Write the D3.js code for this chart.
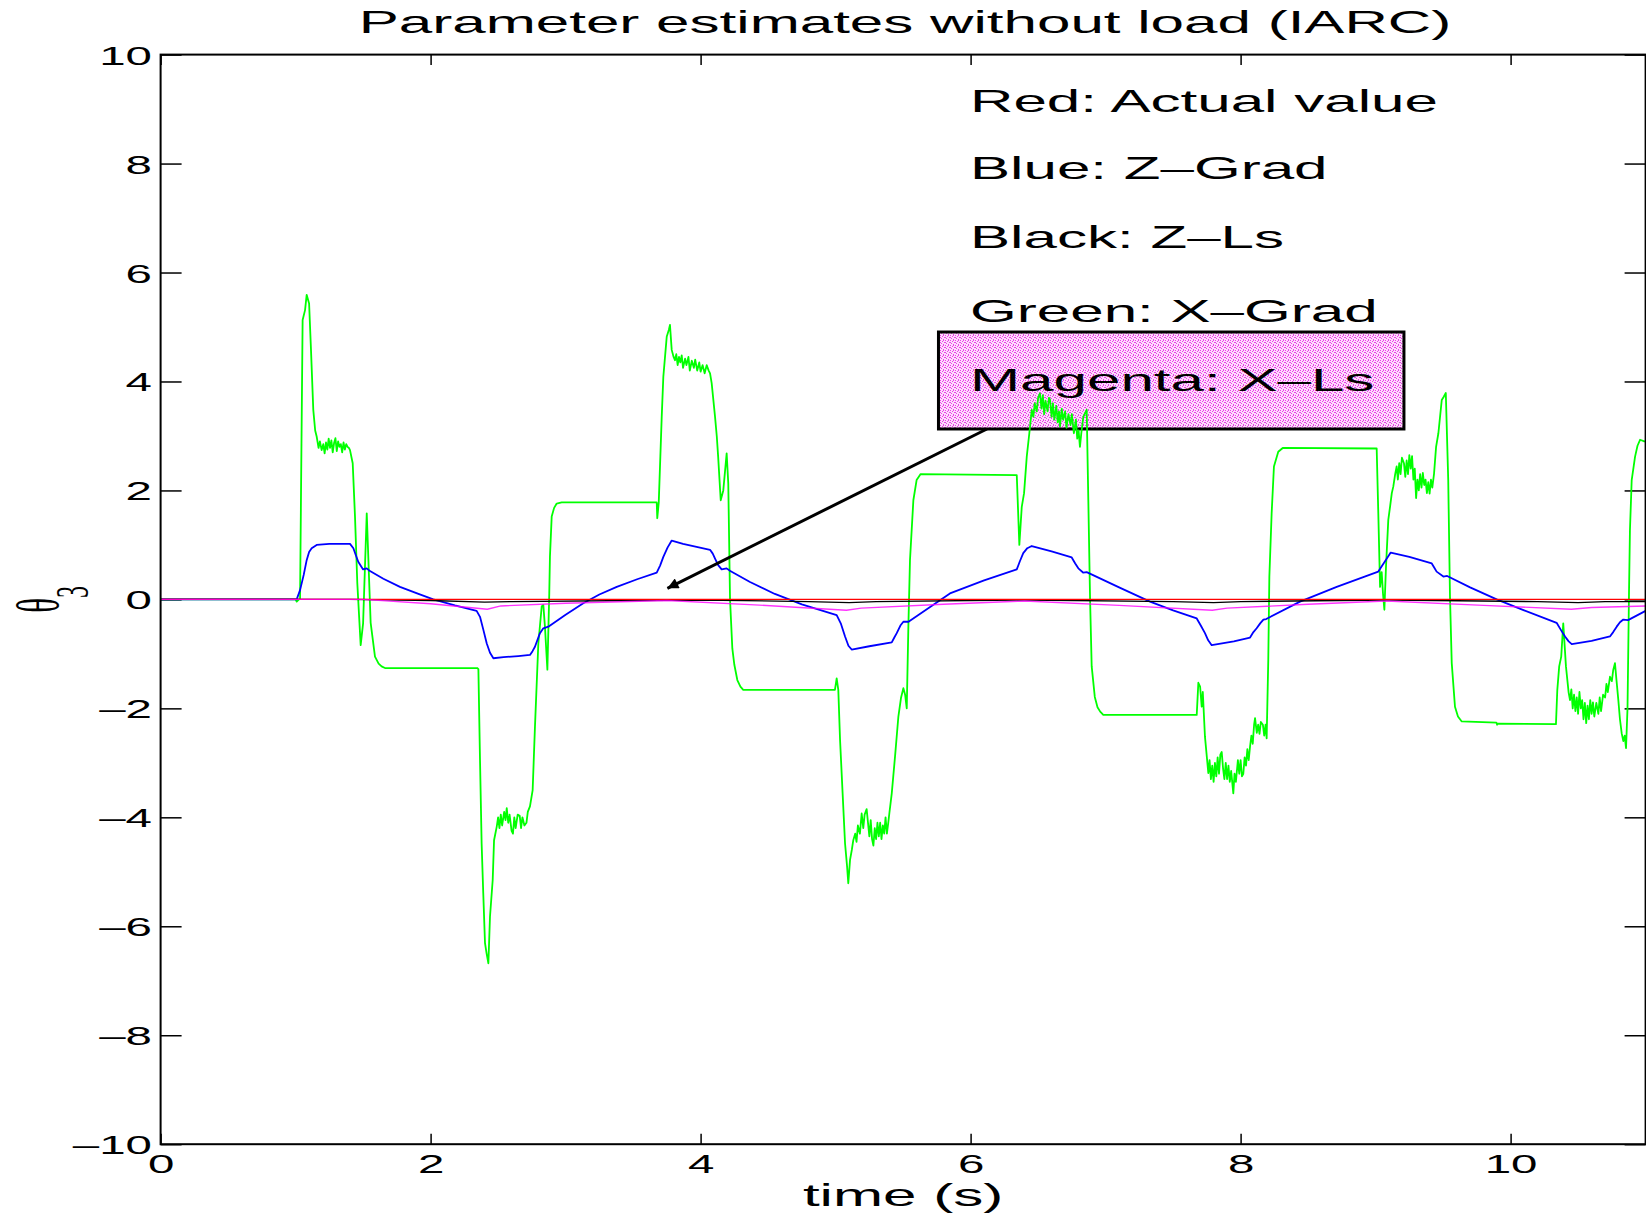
<!DOCTYPE html>
<html>
<head>
<meta charset="utf-8">
<script src="https://cdn.jsdelivr.net/npm/d3@7"></script>
<style>
  body { margin: 0; background: #fff; }
  svg { display: block; background: #fff; }
</style>
</head>
<body>
<div id="chart"></div>
<script>
// ---- data (time in s, theta_3 estimate) ----
const actual = [[0, 0], [11, 0]]; // red

const zGrad = [ // blue
  [0,0],[1.0,0],[1.008,0],[1.033,0.17],[1.06,0.45],[1.082,0.72],[1.10,0.87],[1.119,0.94],[1.156,1.0],[1.25,1.02],
  [1.403,1.02],[1.428,0.94],[1.445,0.82],[1.464,0.69],[1.50,0.55],[1.527,0.57],[1.551,0.52],[1.65,0.38],[1.773,0.23],
  [1.9,0.11],[2.02,0.0],[2.18,-0.11],[2.341,-0.21],[2.366,-0.32],[2.39,-0.55],[2.416,-0.81],[2.44,-0.98],[2.465,-1.08],
  [2.54,-1.06],[2.65,-1.04],[2.736,-1.02],[2.755,-0.95],[2.773,-0.87],[2.81,-0.62],[2.835,-0.53],[2.872,-0.5],[3.0,-0.28],
  [3.131,-0.07],[3.25,0.09],[3.379,0.23],[3.53,0.37],[3.675,0.49],[3.7,0.62],[3.724,0.78],[3.755,0.95],[3.786,1.08],
  [3.87,1.02],[4.07,0.91],[4.09,0.84],[4.107,0.75],[4.13,0.63],[4.156,0.55],[4.193,0.57],[4.22,0.52],[4.366,0.32],
  [4.55,0.1],[4.75,-0.09],[5.008,-0.29],[5.04,-0.45],[5.07,-0.68],[5.095,-0.85],[5.119,-0.92],[5.25,-0.86],[5.416,-0.79],
  [5.435,-0.7],[5.453,-0.62],[5.48,-0.48],[5.502,-0.41],[5.54,-0.41],[5.7,-0.14],[5.847,0.11],[6.1,0.35],[6.342,0.55],
  [6.365,0.7],[6.39,0.85],[6.42,0.94],[6.453,0.98],[6.6,0.88],[6.749,0.77],[6.775,0.66],[6.798,0.57],[6.835,0.49],
  [6.86,0.5],[7.1,0.22],[7.329,-0.04],[7.5,-0.2],[7.675,-0.35],[7.705,-0.48],[7.736,-0.62],[7.76,-0.75],[7.786,-0.84],
  [7.95,-0.77],[8.07,-0.7],[8.095,-0.6],[8.119,-0.53],[8.145,-0.44],[8.169,-0.37],[8.19,-0.36],[8.44,-0.04],[8.712,0.23],
  [9.02,0.51],[9.065,0.68],[9.112,0.86],[9.25,0.78],[9.416,0.66],[9.435,0.58],[9.452,0.51],[9.502,0.42],[9.53,0.43],
  [9.7,0.22],[9.897,0.0],[10.1,-0.2],[10.341,-0.43],[10.37,-0.55],[10.403,-0.68],[10.43,-0.77],[10.453,-0.82],
  [10.6,-0.76],[10.736,-0.68],[10.76,-0.6],[10.786,-0.5],[10.81,-0.42],[10.835,-0.37],[10.87,-0.38],[11.0,-0.21]
];

const zLs = [ // black
  [0,0],[1.4,0],[2.0,-0.02],[2.4,-0.05],[2.6,-0.04],[3.5,-0.02],[4.0,-0.01],[4.8,-0.04],[5.1,-0.06],[5.3,-0.04],
  [6.4,-0.01],[7.5,-0.04],[7.8,-0.06],[8.0,-0.04],[9.1,-0.01],[10.2,-0.04],[10.5,-0.06],[10.7,-0.04],[11,-0.04]
];

const xGrad = [ // green
  [0,0],[1.0,0],[1.008,-0.04],[1.033,0.02],[1.052,5.13],[1.07,5.31],[1.082,5.59],[1.10,5.43],[1.114,4.58],[1.131,3.48],
  [1.145,3.1],[1.156,2.99],[1.17,2.78],[1.18,2.9],[1.193,2.74],[1.205,2.85],[1.215,2.68],[1.225,2.88],[1.235,2.75],
  [1.245,2.95],[1.255,2.78],[1.265,2.92],[1.275,2.7],[1.285,2.87],[1.295,2.96],[1.305,2.72],[1.315,2.9],[1.325,2.8],
  [1.335,2.85],[1.345,2.7],[1.355,2.88],[1.365,2.75],[1.375,2.85],[1.385,2.8],[1.395,2.78],[1.403,2.74],[1.423,2.5],
  [1.44,1.52],[1.457,0.3],[1.482,-0.84],[1.50,-0.44],[1.527,1.58],[1.541,0.6],[1.556,-0.43],[1.588,-1.05],[1.615,-1.18],
  [1.637,-1.23],[1.662,-1.26],[2.345,-1.26],[2.354,-1.28],[2.366,-2.95],[2.378,-4.48],[2.39,-5.39],[2.403,-6.31],
  [2.415,-6.5],[2.428,-6.68],[2.44,-5.82],[2.46,-5.15],[2.47,-4.42],[2.49,-4.17],[2.50,-4.0],[2.51,-4.2],[2.52,-3.95],
  [2.53,-4.15],[2.545,-3.9],[2.555,-4.05],[2.564,-3.83],[2.575,-4.1],[2.585,-3.95],[2.6,-4.25],[2.61,-4.3],[2.62,-4.0],
  [2.63,-4.2],[2.645,-3.95],[2.66,-3.97],[2.67,-4.2],[2.68,-4.0],[2.695,-4.15],[2.71,-4.1],[2.72,-3.9],[2.736,-3.8],
  [2.756,-3.5],[2.773,-2.34],[2.798,-0.81],[2.823,-0.13],[2.835,-0.1],[2.847,-0.5],[2.865,-1.29],[2.879,0.11],
  [2.884,0.78],[2.897,1.52],[2.915,1.68],[2.934,1.76],[2.971,1.78],[3.675,1.78],[3.679,1.49],[3.69,1.78],[3.712,3.35],
  [3.724,4.09],[3.749,4.82],[3.765,4.95],[3.773,5.04],[3.786,4.58],[3.80,4.45],[3.81,4.39],[3.82,4.5],[3.83,4.3],
  [3.84,4.45],[3.85,4.35],[3.86,4.48],[3.87,4.25],[3.885,4.42],[3.895,4.3],[3.91,4.45],[3.92,4.2],[3.935,4.38],
  [3.95,4.25],[3.96,4.4],[3.975,4.2],[3.99,4.35],[4.0,4.18],[4.015,4.3],[4.03,4.15],[4.045,4.3],[4.06,4.2],[4.07,4.15],
  [4.082,3.97],[4.107,3.35],[4.12,2.99],[4.13,2.62],[4.149,1.82],[4.168,2.0],[4.193,2.68],[4.205,2.13],[4.218,0],
  [4.235,-0.9],[4.25,-1.2],[4.272,-1.48],[4.295,-1.6],[4.316,-1.66],[4.995,-1.66],[5.008,-1.45],[5.02,-1.66],
  [5.033,-2.58],[5.052,-3.56],[5.07,-4.48],[5.085,-4.9],[5.094,-5.21],[5.107,-4.78],[5.12,-4.6],[5.131,-4.42],
  [5.145,-4.3],[5.155,-4.45],[5.165,-4.15],[5.18,-4.3],[5.193,-3.93],[5.205,-4.2],[5.215,-3.95],[5.23,-3.85],
  [5.24,-4.1],[5.25,-4.35],[5.26,-4.05],[5.27,-4.4],[5.28,-4.52],[5.29,-4.2],[5.30,-4.4],[5.31,-4.1],[5.32,-4.35],
  [5.33,-4.1],[5.34,-4.4],[5.35,-4.15],[5.36,-4.3],[5.37,-4.0],[5.38,-4.3],[5.39,-4.1],[5.398,-3.93],[5.416,-3.56],
  [5.44,-2.89],[5.465,-2.15],[5.485,-1.8],[5.502,-1.63],[5.515,-1.75],[5.527,-2.0],[5.539,-0.5],[5.551,0.72],
  [5.576,1.82],[5.60,2.19],[5.63,2.3],[6.342,2.28],[6.361,1.0],[6.379,1.70],[6.396,1.95],[6.416,2.62],[6.435,3.05],
  [6.453,3.48],[6.465,3.35],[6.475,3.6],[6.49,3.45],[6.50,3.7],[6.514,3.78],[6.525,3.5],[6.535,3.75],[6.545,3.4],
  [6.555,3.65],[6.57,3.45],[6.58,3.7],[6.588,3.67],[6.6,3.35],[6.61,3.6],[6.62,3.3],[6.635,3.55],[6.645,3.25],
  [6.655,3.45],[6.662,3.17],[6.675,3.5],[6.685,3.3],[6.7,3.45],[6.71,3.15],[6.725,3.4],[6.74,3.2],[6.75,3.4],
  [6.765,3.05],[6.78,3.3],[6.79,2.95],[6.8,3.1],[6.81,2.8],[6.82,3.05],[6.835,3.35],[6.86,3.48],[6.872,1.82],
  [6.885,0],[6.897,-1.23],[6.92,-1.79],[6.94,-1.98],[6.96,-2.06],[6.983,-2.12],[7.675,-2.12],[7.687,-1.53],[7.70,-1.6],
  [7.712,-1.97],[7.72,-1.7],[7.736,-2.52],[7.761,-3.19],[7.77,-2.95],[7.78,-3.3],[7.79,-3.05],[7.80,-3.35],[7.81,-3.0],
  [7.82,-3.25],[7.83,-2.9],[7.84,-3.2],[7.85,-2.85],[7.86,-2.8],[7.87,-3.1],[7.88,-3.3],[7.89,-3.0],[7.90,-3.3],
  [7.91,-3.05],[7.92,-3.35],[7.93,-3.15],[7.946,-3.56],[7.955,-3.2],[7.965,-3.35],[7.98,-2.95],[7.99,-3.2],[8.0,-2.95],
  [8.01,-3.25],[8.02,-3.2],[8.03,-2.9],[8.04,-3.05],[8.05,-2.75],[8.06,-2.95],[8.07,-2.70],[8.08,-2.5],[8.09,-2.65],
  [8.1,-2.3],[8.107,-2.18],[8.12,-2.45],[8.13,-2.3],[8.14,-2.47],[8.15,-2.25],[8.165,-2.3],[8.175,-2.5],[8.185,-2.3],
  [8.193,-2.55],[8.205,-1.11],[8.213,0.42],[8.23,1.58],[8.247,2.44],[8.279,2.71],[8.312,2.78],[9.008,2.77],[9.02,1.58],
  [9.033,0.23],[9.045,0.5],[9.055,0.1],[9.065,-0.19],[9.077,0.6],[9.094,1.46],[9.107,1.7],[9.12,1.95],[9.131,2.07],
  [9.145,2.3],[9.156,2.44],[9.165,2.2],[9.175,2.5],[9.185,2.3],[9.195,2.6],[9.21,2.5],[9.22,2.25],[9.23,2.55],
  [9.24,2.3],[9.25,2.65],[9.26,2.4],[9.27,2.63],[9.28,2.2],[9.29,2.4],[9.30,1.86],[9.31,2.2],[9.32,2.0],[9.33,2.3],
  [9.34,2.05],[9.35,2.32],[9.36,2.1],[9.37,2.2],[9.38,1.95],[9.39,2.15],[9.40,1.94],[9.41,2.2],[9.42,2.05],[9.433,2.31],
  [9.448,2.8],[9.465,3.05],[9.49,3.66],[9.505,3.72],[9.52,3.79],[9.538,2.19],[9.551,0.05],[9.564,-1.17],[9.588,-1.97],
  [9.61,-2.15],[9.638,-2.24],[9.895,-2.26],[9.9,-2.3],[9.905,-2.28],[10.336,-2.29],[10.346,-1.66],[10.36,-1.23],
  [10.375,-1.05],[10.39,-0.44],[10.41,-1.23],[10.43,-1.71],[10.44,-1.85],[10.45,-1.65],[10.46,-2.0],[10.47,-1.75],
  [10.48,-2.05],[10.49,-1.8],[10.5,-2.1],[10.51,-1.7],[10.52,-2.0],[10.53,-1.85],[10.54,-2.2],[10.55,-1.9],[10.56,-2.27],
  [10.57,-1.95],[10.58,-2.2],[10.59,-1.85],[10.6,-2.1],[10.61,-1.89],[10.62,-2.15],[10.635,-1.9],[10.65,-2.1],
  [10.66,-1.8],[10.67,-2.05],[10.685,-1.75],[10.70,-1.8],[10.71,-1.55],[10.72,-1.7],[10.736,-1.42],[10.75,-1.5],
  [10.76,-1.3],[10.773,-1.17],[10.785,-1.5],[10.798,-1.85],[10.81,-2.2],[10.823,-2.46],[10.835,-2.6],[10.845,-2.5],
  [10.855,-2.73],[10.866,-2.0],[10.877,0.11],[10.884,1.27],[10.897,2.19],[10.922,2.62],[10.94,2.82],[10.959,2.93],
  [10.99,2.9],[11.0,2.9]
];

const xLs = [ // magenta
  [0,0],[1.5,0],[2.0,-0.08],[2.42,-0.18],[2.52,-0.12],[3.0,-0.07],[3.75,-0.02],[4.4,-0.1],[5.08,-0.2],[5.19,-0.16],
  [5.8,-0.09],[6.4,-0.03],[7.1,-0.11],[7.79,-0.2],[7.9,-0.16],[8.5,-0.09],[9.08,-0.03],[9.8,-0.11],[10.45,-0.18],
  [10.6,-0.15],[11.0,-0.12]
];

const xTicks = [0, 2, 4, 6, 8, 10];
const yTicks = [-10, -8, -6, -4, -2, 0, 2, 4, 6, 8, 10];

const legendLines = ["Red: Actual value", "Blue: Z\u2013Grad", "Black: Z\u2013Ls", "Green: X\u2013Grad", "Magenta: X\u2013Ls"];
const legendBaselines = [111.7, 179, 248.3, 321.7, 391];

// annotation box and arrow, in data units
const noteBox = { t0: 5.762, t1: 9.21, v0: 3.128, v1: 4.908 };
const noteArrow = { from: [6.121, 3.128], to: [3.754, 0.204] };

// ---- layout ----
const W = 1646, H = 1213;
const SX = 1.9;   // the original figure is stretched sideways, lettering too
const SXB = 1.94; // big lettering is stretched a bit more
const SANS = "'Liberation Sans', Arial, Helvetica, sans-serif";
const SERIF = "'Liberation Serif', 'Times New Roman', serif";

const svg = d3.select("#chart").append("svg")
    .attr("width", W)
    .attr("height", H);

const x = d3.scaleLinear().domain([0, 11]).range([160.6, 1645.6]);
const y = d3.scaleLinear().domain([-10, 10]).range([1144.2, 54.6]);

const fmt = d => d < 0 ? "\u2013" + (-d) : String(d);

// stipple fill for the annotation box
const defs = svg.append("defs");
const pat = defs.append("pattern")
    .attr("id", "stipple")
    .attr("patternUnits", "userSpaceOnUse")
    .attr("width", 5).attr("height", 5);
pat.append("rect").attr("width", 5).attr("height", 5).attr("fill", "#fcdcfb");
[[0,0],[2,1],[4,2],[1,3],[3,4],[3,0],[0,2]].forEach(p => {
    pat.append("rect").attr("x", p[0]).attr("y", p[1]).attr("width", 1).attr("height", 1).attr("fill", "#ec3cea");
});

defs.append("clipPath").attr("id", "plotClip")
    .append("rect")
    .attr("x", x(0)).attr("y", y(10))
    .attr("width", x(11) - x(0)).attr("height", y(-10) - y(10));

defs.append("marker")
    .attr("id", "head")
    .attr("viewBox", "0 0 10 10")
    .attr("markerUnits", "userSpaceOnUse")
    .attr("markerWidth", 17).attr("markerHeight", 11)
    .attr("refX", 10).attr("refY", 5)
    .attr("orient", "auto")
    .append("path")
    .attr("d", "M0,0 L10,5 L0,10 Z")
    .attr("fill", "#000");

// ticks (inward, on all four sides)
const styleTicks = g => {
    g.select(".domain").remove();
    g.selectAll("line").attr("stroke", "#000").attr("stroke-width", 1.5);
};

svg.append("g")
    .attr("transform", `translate(0,${y(-10)})`)
    .call(d3.axisBottom(x).tickValues(xTicks).tickSize(-10.5).tickSizeOuter(0).tickPadding(11).tickFormat(fmt))
    .call(styleTicks)
    .selectAll("text")
    .attr("font-family", SANS).attr("font-size", 25).attr("fill", "#000")
    .attr("transform", `scale(${SX},1)`);

svg.append("g")
    .attr("transform", `translate(0,${y(10)})`)
    .call(d3.axisTop(x).tickValues(xTicks).tickSize(-10.5).tickSizeOuter(0).tickFormat(""))
    .call(styleTicks);

svg.append("g")
    .attr("transform", `translate(${x(0)},0)`)
    .call(d3.axisLeft(y).tickValues(yTicks).tickSize(-21).tickSizeOuter(0).tickFormat(fmt))
    .call(styleTicks)
    .selectAll("text")
    .attr("font-family", SANS).attr("font-size", 25).attr("fill", "#000")
    .attr("x", -8.6 / SX).attr("dy", "0.38em")
    .attr("transform", `scale(${SX},1)`);

svg.append("g")
    .attr("transform", `translate(${x(11)},0)`)
    .call(d3.axisRight(y).tickValues(yTicks).tickSize(-21).tickSizeOuter(0).tickFormat(""))
    .call(styleTicks);

// annotation box (under the curves)
svg.append("rect")
    .attr("x", x(noteBox.t0)).attr("y", y(noteBox.v1))
    .attr("width", x(noteBox.t1) - x(noteBox.t0))
    .attr("height", y(noteBox.v0) - y(noteBox.v1))
    .attr("fill", "url(#stipple)")
    .attr("stroke", "#000")
    .attr("stroke-width", 3);

// curves
const line = d3.line().x(d => x(d[0])).y(d => y(d[1]));
const plot = svg.append("g").attr("clip-path", "url(#plotClip)");

const series = [
    { data: xGrad, color: "#00ff00", width: 1.8 },
    { data: zGrad, color: "#0000ff", width: 1.8 },
    { data: zLs, color: "#000000", width: 1.4 },
    { data: actual, color: "#ff0000", width: 1.3 },
    { data: xLs, color: "#ff00ff", width: 1.4, opacity: 0.8 }
];

plot.selectAll(".series")
    .data(series)
    .enter().append("path")
    .attr("class", "series")
    .attr("d", d => line(d.data))
    .attr("fill", "none")
    .attr("stroke", d => d.color)
    .attr("stroke-width", d => d.width)
    .attr("stroke-opacity", d => d.opacity || 1)
    .attr("stroke-linejoin", "round");

// arrow
svg.append("line")
    .attr("x1", x(noteArrow.from[0])).attr("y1", y(noteArrow.from[1]))
    .attr("x2", x(noteArrow.to[0])).attr("y2", y(noteArrow.to[1]))
    .attr("stroke", "#000")
    .attr("stroke-width", 3)
    .attr("marker-end", "url(#head)");

// frame
svg.append("rect")
    .attr("x", x(0)).attr("y", y(10))
    .attr("width", x(11) - x(0)).attr("height", y(-10) - y(10))
    .attr("fill", "none")
    .attr("stroke", "#000")
    .attr("stroke-width", 2);

// legend text
svg.selectAll(".legend")
    .data(legendLines)
    .enter().append("text")
    .attr("class", "legend")
    .attr("transform", (d, i) => `translate(970,${legendBaselines[i]}) scale(${SXB},1)`)
    .attr("font-family", SANS)
    .attr("font-size", 31)
    .attr("fill", "#000")
    .text(d => d);

// title
svg.append("text")
    .attr("transform", `translate(905,33.3) scale(${SXB},1)`)
    .attr("text-anchor", "middle")
    .attr("font-family", SANS)
    .attr("font-size", 31)
    .text("Parameter estimates without load (IARC)");

// x label
svg.append("text")
    .attr("transform", `translate(${(x(0) + x(11)) / 2},1205.5) scale(${SXB},1)`)
    .attr("text-anchor", "middle")
    .attr("font-family", SANS)
    .attr("font-size", 31)
    .text("time (s)");

// y label: theta with subscript 3
const ylab = svg.append("text")
    .attr("transform", `translate(58,${y(0)}) scale(${SX},1) rotate(-90)`)
    .attr("text-anchor", "middle")
    .attr("font-family", SERIF)
    .attr("font-size", 31);
ylab.append("tspan").text("\u03b8");
ylab.append("tspan").attr("dy", 16).attr("font-size", 24).text("3");
</script>
</body>
</html>
